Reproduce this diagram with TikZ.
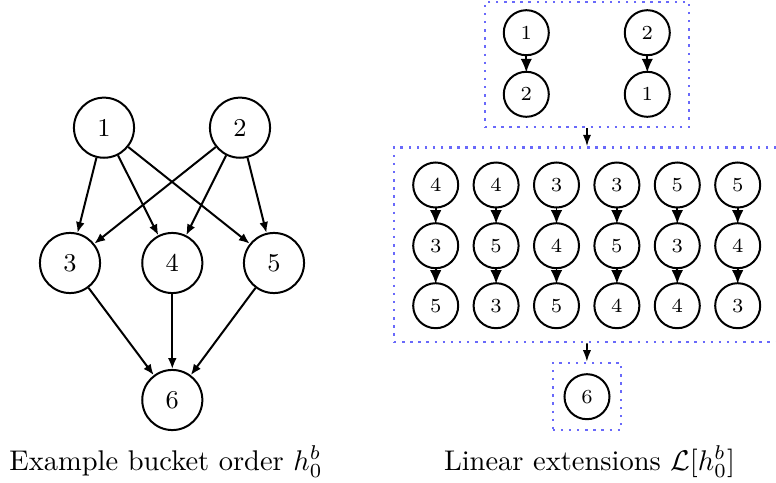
\documentclass[tikz,border=0pt]{standalone}
\usetikzlibrary{arrows.meta}
\definecolor{boxblue}{RGB}{105,105,250}
\begin{document}
\begin{tikzpicture}[x=0.351pt,y=-0.351pt,
  bignode/.style={circle,draw,line width=0.7pt,inner sep=0pt,minimum size=21.1pt,font=\small},
  smallnode/.style={circle,draw,line width=0.7pt,inner sep=0pt,minimum size=15.8pt,font=\scriptsize},
  bigarrow/.style={line width=0.7pt,-{Latex[length=3.8pt,width=3.1pt]}},
  chainarrow/.style={line width=0.6pt,shorten <=-0.5pt,shorten >=-0.6pt,-{Latex[length=4.8pt,width=4pt]}},
  boxarrow/.style={line width=0.55pt,-{Latex[length=4pt,width=2.9pt]}},
  groupbox/.style={draw=boxblue,dotted,line width=0.85pt,inner sep=0pt}]
\useasboundingbox (0,0) rectangle (776,483);
% left graph
\node[bignode] (n1) at (104,127.7) {1};
\node[bignode] (n2) at (240,127.7) {2};
\node[bignode] (n3) at (70,263) {3};
\node[bignode] (n4) at (172.3,263) {4};
\node[bignode] (n5) at (274,263) {5};
\node[bignode] (n6) at (172.3,400) {6};
\foreach \a/\b in {n1/n3,n1/n4,n1/n5,n2/n3,n2/n4,n2/n5,n3/n6,n4/n6,n5/n6}
  \draw[bigarrow] (\a) -- (\b);
% boxes
\node[groupbox,minimum width=71.6pt,minimum height=43.9pt] (topbox) at (587,64.5) {};
\node[groupbox,minimum width=135.5pt,minimum height=68.4pt] (midbox) at (587,244.8) {};
\node[groupbox,minimum width=24pt,minimum height=23.6pt] (botbox) at (586.9,396.4) {};
\draw[boxarrow] (topbox.south) -- (midbox.north);
\draw[boxarrow] (midbox.south) -- (botbox.north);
% top box chains
\node[smallnode] (t1a) at (526.3,32.7) {1};
\node[smallnode] (t1b) at (526.3,94.3) {2};
\node[smallnode] (t2a) at (647.3,32.7) {2};
\node[smallnode] (t2b) at (647.3,94.3) {1};
\draw[chainarrow] (t1a) -- (t1b);
\draw[chainarrow] (t2a) -- (t2b);
% middle box chains
\foreach \i/\p/\q/\r in {0/4/3/5,1/4/5/3,2/3/4/5,3/3/5/4,4/5/3/4,5/5/4/3}{
  \node[smallnode] (m\i a) at (435.7+60.4*\i,185) {\p};
  \node[smallnode] (m\i b) at (435.7+60.4*\i,245.7) {\q};
  \node[smallnode] (m\i c) at (435.7+60.4*\i,305.7) {\r};
  \draw[chainarrow] (m\i a) -- (m\i b);
  \draw[chainarrow] (m\i b) -- (m\i c);
}
% bottom box
\node[smallnode] (b6) at (587,396.7) {6};
% captions
\node[anchor=base,inner sep=0pt] (cap1) at (166,470) {Example bucket order $h_0^b$};
\node[anchor=base,inner sep=0pt] (cap2) at (589.5,470) {Linear extensions $\mathcal{L}[h_0^b]$};
\end{tikzpicture}
\end{document}
